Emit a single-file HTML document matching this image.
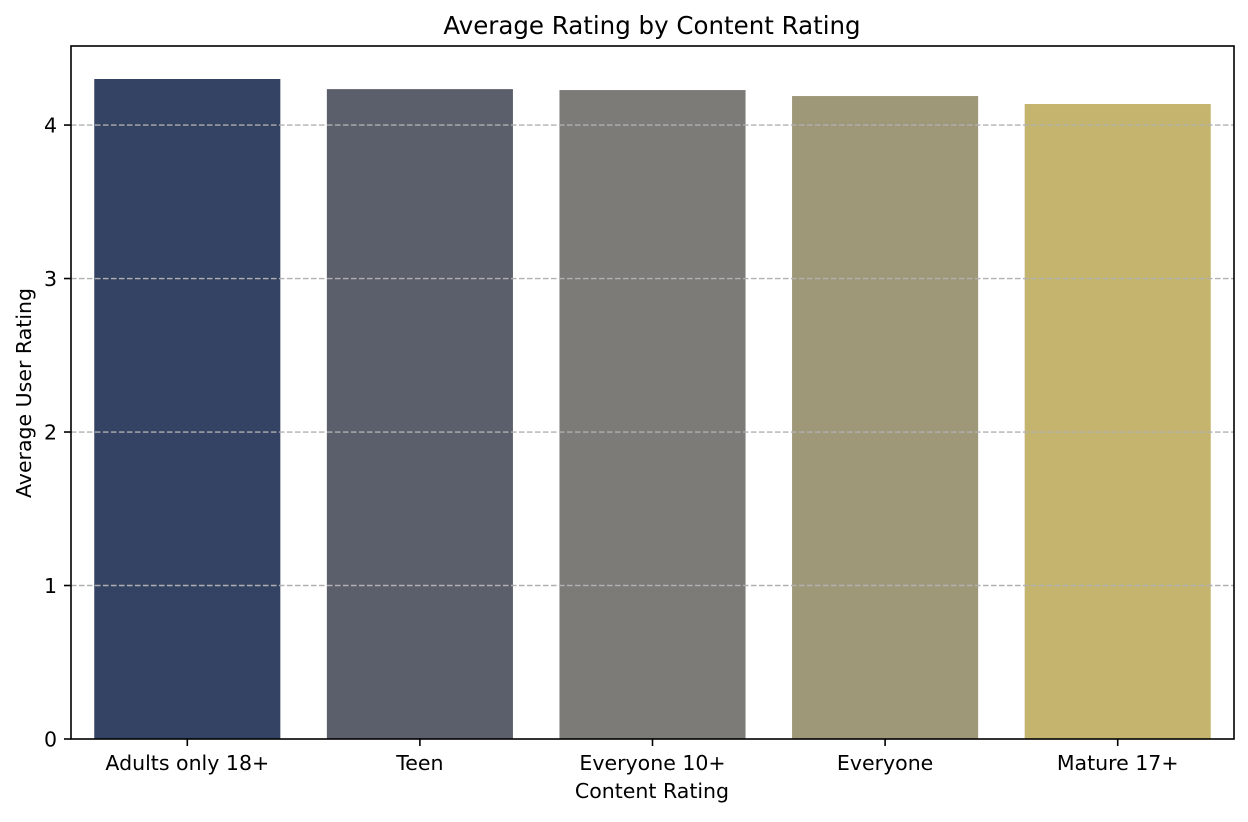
<!DOCTYPE html>
<html><head><meta charset="utf-8"><style>
body{margin:0;background:#fff;}
svg text{font-family:"DejaVu Sans","Liberation Sans",sans-serif;fill:#000;}
</style></head><body>
<svg id="chart" width="1248" height="817" xmlns="http://www.w3.org/2000/svg">
<text x="652" y="34" font-size="24.5" text-anchor="middle">Average Rating by Content Rating</text>
<g id="grid"></g><g id="bars"></g><g id="grid2"></g><g id="axes"></g>
<text x="652" y="798" font-size="20.5" text-anchor="middle">Content Rating</text>
<text transform="translate(31,393) rotate(-90)" font-size="20.5" text-anchor="middle">Average User Rating</text>
</svg>
<script>
const categories=["Adults only 18+","Teen","Everyone 10+","Everyone","Mature 17+"];
const values=[4.30,4.234,4.228,4.189,4.137];
const colors=["#344264","#5b5e6b","#7c7b78","#9e9778","#c5b46d"];
const yTicks=[0,1,2,3,4];
const L=71,R=1234,T=46,B=739,yMax=4.515;
const NS="http://www.w3.org/2000/svg";
const y=v=>B-(v/yMax)*(B-T);
const step=(R-L)/categories.length;
const x=i=>L+step*(i+0.5);
function mk(tag,attrs,parent){const e=document.createElementNS(NS,tag);for(const k in attrs)e.setAttribute(k,attrs[k]);document.getElementById(parent).appendChild(e);return e;}
categories.forEach((c,i)=>{
 const r=mk('rect',{x:x(i)-step*0.4,y:y(values[i]),width:step*0.8,height:B-y(values[i]),fill:colors[i]},'bars');
 
 
 const t=mk('line',{x1:x(i),x2:x(i),y1:B,y2:B+7,stroke:'#000','stroke-width':1.6},'axes');
 
 
 const lb=mk('text',{x:x(i),y:B+31,'font-size':20.5,'text-anchor':'middle'},'axes');
 lb.textContent=c;
 
 
});
yTicks.forEach(v=>{
 if(v>0){const g=mk('line',{x1:L,x2:R,y1:y(v),y2:y(v),stroke:'#b0b0b0','stroke-width':1.4,'stroke-dasharray':'5.5,2.5'},'grid2');
 
 }
 const t=mk('line',{x1:L-7,x2:L,y1:y(v),y2:y(v),stroke:'#000','stroke-width':1.6},'axes');
 
 
 const lb=mk('text',{x:L-14,y:y(v)+7.5,'font-size':20.5,'text-anchor':'end'},'axes');
 lb.textContent=v;
 
 
});
const fr=mk('rect',{x:L,y:T,width:R-L,height:B-T,fill:'none',stroke:'#000','stroke-width':1.6},'axes');


</script>
</body></html>
